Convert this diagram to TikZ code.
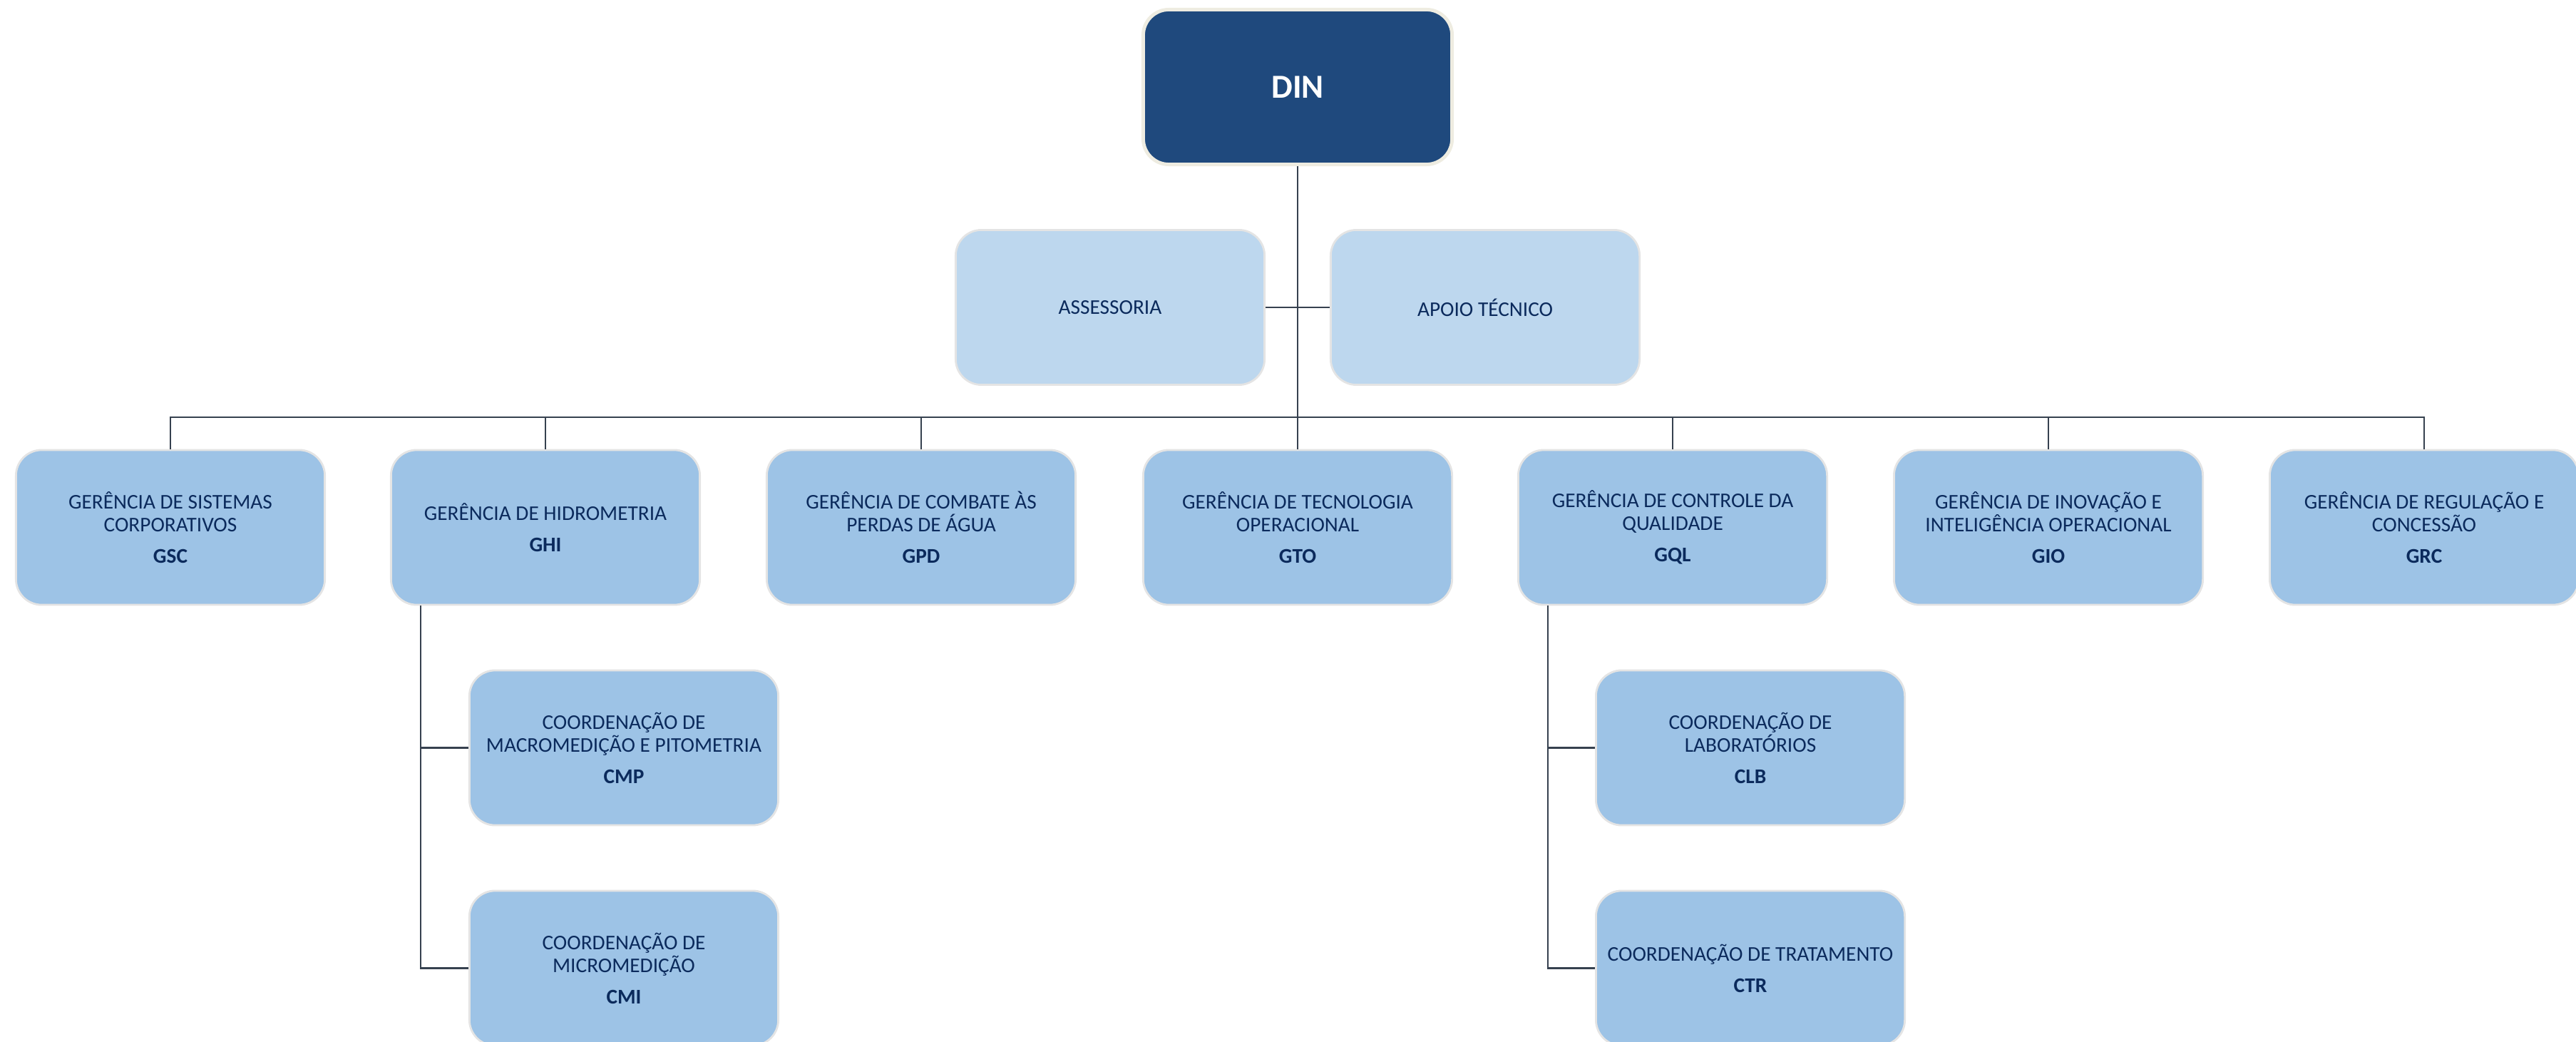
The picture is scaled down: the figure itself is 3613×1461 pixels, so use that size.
\documentclass[tikz,border=0pt]{standalone}
\usepackage{fontspec}
\setmainfont{Carlito}
\definecolor{dinfill}{HTML}{1F497D}
\definecolor{dinborder}{HTML}{EEECE1}
\definecolor{lightfill}{HTML}{BDD7EE}
\definecolor{midfill}{HTML}{9DC3E6}
\definecolor{boxborder}{HTML}{E4E4E4}
\definecolor{txt}{HTML}{0B2A5C}
\definecolor{linkcol}{HTML}{36414F}
\begin{document}
\begin{tikzpicture}[x=0.01cm,y=-0.01cm,
  base/.style={rounded corners=0.36cm, minimum width=4.33cm, minimum height=2.17cm,
    inner sep=0pt, align=center, text=txt, line width=0.8pt, draw=boxborder,
    font=\fontsize{8.34}{9.1}\selectfont},
  dinbox/.style={base, fill=dinfill, draw=dinborder, line width=1.4pt, text=white,
    font=\fontsize{13.4}{15}\selectfont\bfseries},
  abox/.style={base, fill=lightfill},
  gbox/.style={base, fill=midfill},
  link/.style={draw=linkcol, line width=0.7pt}]
\useasboundingbox (0,0) rectangle (3613,1461);

\node[dinbox] (din) at (1820,122) {DIN};
\node[abox] (ass) at (1557,431) {ASSESSORIA};
\node[abox] (apo) at (2083,431) {APOIO TÉCNICO};

\node[gbox] (gsc) at (239,739.5) {GERÊNCIA DE SISTEMAS\\CORPORATIVOS\\[3.4pt]\textbf{GSC}};
\node[gbox] (ghi) at (765,739.5) {GERÊNCIA DE HIDROMETRIA\\[3.4pt]\textbf{GHI}};
\node[gbox] (gpd) at (1292,739.5) {GERÊNCIA DE COMBATE ÀS\\PERDAS DE ÁGUA\\[3.4pt]\textbf{GPD}};
\node[gbox] (gto) at (1820,739.5) {GERÊNCIA DE TECNOLOGIA\\OPERACIONAL\\[3.4pt]\textbf{GTO}};
\node[gbox] (gql) at (2346,739.5) {GERÊNCIA DE CONTROLE DA\\QUALIDADE\\[3.4pt]\textbf{GQL}};
\node[gbox] (gio) at (2873,739.5) {GERÊNCIA DE INOVAÇÃO E\\INTELIGÊNCIA OPERACIONAL\\[3.4pt]\textbf{GIO}};
\node[gbox] (grc) at (3400,739.5) {GERÊNCIA DE REGULAÇÃO E\\CONCESSÃO\\[3.4pt]\textbf{GRC}};

\node[gbox] (cmp) at (875,1048.5) {COORDENAÇÃO DE\\MACROMEDIÇÃO E PITOMETRIA\\[3.4pt]\textbf{CMP}};
\node[gbox] (cmi) at (875,1357.5) {COORDENAÇÃO DE\\MICROMEDIÇÃO\\[3.4pt]\textbf{CMI}};
\node[gbox] (clb) at (2455,1048.5) {COORDENAÇÃO DE\\LABORATÓRIOS\\[3.4pt]\textbf{CLB}};
\node[gbox] (ctr) at (2455,1357.5) {COORDENAÇÃO DE TRATAMENTO\\[3.4pt]\textbf{CTR}};

\coordinate (busc) at (1820,585);
\draw[link] (din.south) -- (busc);
\draw[link] (ass.east) -- (apo.west);
\foreach \g in {gsc,ghi,gpd,gql,gio,grc}{\draw[link] (busc) -| (\g.north);}
\draw[link] (busc) -- (gto.north);

\coordinate (ghiL) at ([xshift=0.43cm]ghi.south west);
\draw[link] (ghiL) |- (cmp.west);
\draw[link] (ghiL) |- (cmi.west);
\coordinate (gqlL) at ([xshift=0.43cm]gql.south west);
\draw[link] (gqlL) |- (clb.west);
\draw[link] (gqlL) |- (ctr.west);
\end{tikzpicture}
\end{document}
